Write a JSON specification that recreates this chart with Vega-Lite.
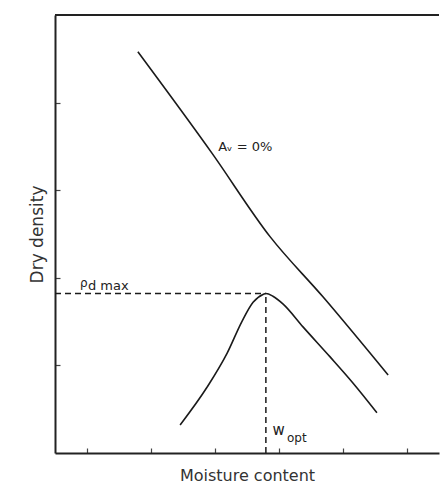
{
  "$schema": "https://vega.github.io/schema/vega-lite/v6.json",
  "width": 384,
  "height": 438,
  "autosize": {"type": "none"},
  "padding": {"left": 55, "top": 15, "right": 2, "bottom": 34},
  "background": "white",
  "config": {
    "view": {"stroke": null},
    "font": "DejaVu Sans",
    "axis": {"grid": false, "labels": false, "domainColor": "#222", "domainWidth": 2, "tickColor": "#444", "tickWidth": 1.2, "titleFont": "DejaVu Sans", "titleFontWeight": "normal", "titleColor": "#333"}
  },
  "datasets": {
    "zav": [
      {"w": 2.59, "d": 4.58},
      {"w": 4.91, "d": 3.42},
      {"w": 6.72, "d": 2.47},
      {"w": 8.38, "d": 1.78},
      {"w": 10.41, "d": 0.89}
    ],
    "curve": [
      {"w": 3.91, "d": 0.32},
      {"w": 4.75, "d": 0.75},
      {"w": 5.38, "d": 1.14},
      {"w": 5.84, "d": 1.5},
      {"w": 6.19, "d": 1.72},
      {"w": 6.5, "d": 1.81},
      {"w": 6.59, "d": 1.82},
      {"w": 6.81, "d": 1.79},
      {"w": 7.13, "d": 1.7},
      {"w": 7.75, "d": 1.44},
      {"w": 8.59, "d": 1.1},
      {"w": 9.31, "d": 0.8},
      {"w": 10.06, "d": 0.46}
    ],
    "peak": [{"w": 6.59, "d": 1.82, "z": 0}],
    "frame": [{"a": 0, "b": 12, "top": 5}],
    "labels": [
      {"w": 5.1, "d": 3.45, "t": "Aᵥ = 0%", "s": 13},
      {"w": 0.78, "d": 1.9, "t": "ρ", "s": 12},
      {"w": 1.03, "d": 1.86, "t": "d max", "s": 13},
      {"w": 6.8, "d": 0.2, "t": "w", "s": 15},
      {"w": 7.25, "d": 0.12, "t": "opt", "s": 12}
    ]
  },
  "layer": [
    {
      "data": {"name": "zav"},
      "mark": {"type": "line", "color": "#1a1a1a", "strokeWidth": 1.6, "interpolate": "monotone"},
      "encoding": {
        "x": {"field": "w", "type": "quantitative", "scale": {"domain": [0, 12], "nice": false, "zero": false},
          "axis": {"values": [1,2,3,4,5,6,7,8,9,10,11], "tickSize": -5, "title": "Moisture content", "titleFontSize": 16, "titlePadding": 14}},
        "y": {"field": "d", "type": "quantitative", "scale": {"domain": [0, 5], "nice": false, "zero": false},
          "axis": {"values": [1,2,3,4], "tickSize": -5, "title": "Dry density", "titleFontSize": 17, "titlePadding": 8}}
      }
    },
    {
      "data": {"name": "curve"},
      "mark": {"type": "line", "color": "#1a1a1a", "strokeWidth": 1.6, "interpolate": "monotone"},
      "encoding": {
        "x": {"field": "w", "type": "quantitative"},
        "y": {"field": "d", "type": "quantitative"}
      }
    },
    {
      "data": {"name": "peak"},
      "mark": {"type": "rule", "color": "#1a1a1a", "strokeWidth": 1.5, "strokeDash": [6, 4]},
      "encoding": {
        "x": {"field": "z", "type": "quantitative"},
        "x2": {"field": "w"},
        "y": {"field": "d", "type": "quantitative"}
      }
    },
    {
      "data": {"name": "peak"},
      "mark": {"type": "rule", "color": "#1a1a1a", "strokeWidth": 1.5, "strokeDash": [6, 4]},
      "encoding": {
        "x": {"field": "w", "type": "quantitative"},
        "y": {"field": "z", "type": "quantitative"},
        "y2": {"field": "d"}
      }
    },
    {
      "data": {"name": "frame"},
      "mark": {"type": "rule", "color": "#222", "strokeWidth": 2},
      "encoding": {
        "x": {"field": "a", "type": "quantitative"},
        "x2": {"field": "b"},
        "y": {"field": "top", "type": "quantitative"}
      }
    },
    {
      "data": {"name": "labels"},
      "mark": {"type": "text", "align": "left", "baseline": "alphabetic", "color": "#222", "font": "DejaVu Sans"},
      "encoding": {
        "x": {"field": "w", "type": "quantitative"},
        "y": {"field": "d", "type": "quantitative"},
        "text": {"field": "t"},
        "size": {"field": "s", "type": "quantitative", "scale": null}
      }
    }
  ]
}
